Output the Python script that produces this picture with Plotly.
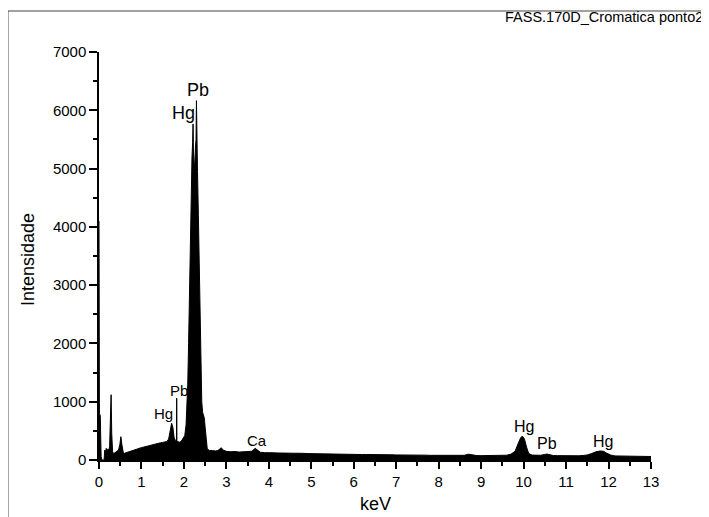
import plotly.graph_objects as go

# ---- data ----
energy_kev = [
    0.000, 0.010, 0.030, 0.050, 0.070, 0.120, 0.135, 0.150, 0.170, 0.190,
    0.210, 0.230, 0.250, 0.265, 0.285, 0.300, 0.320, 0.350, 0.380, 0.420,
    0.460, 0.490, 0.515, 0.540, 0.570, 0.600, 0.650, 0.700, 0.750, 0.800,
    0.850, 0.900, 0.950, 1.000, 1.050, 1.100, 1.150, 1.200, 1.250, 1.300,
    1.350, 1.400, 1.450, 1.500, 1.550, 1.600, 1.640, 1.680, 1.710, 1.740,
    1.770, 1.800, 1.825, 1.830, 1.835, 1.860, 1.900, 1.940, 1.980, 2.020,
    2.050, 2.070, 2.090, 2.110, 2.130, 2.150, 2.170, 2.190, 2.205, 2.215,
    2.225, 2.240, 2.255, 2.270, 2.285, 2.295, 2.305, 2.320, 2.340, 2.360,
    2.380, 2.400, 2.420, 2.440, 2.460, 2.480, 2.500, 2.520, 2.550, 2.600,
    2.650, 2.700, 2.750, 2.800, 2.850, 2.880, 2.920, 2.960, 3.000, 3.100,
    3.200, 3.300, 3.400, 3.500, 3.600, 3.680, 3.750, 3.800, 3.900, 4.000,
    4.100, 4.200, 4.300, 4.400, 4.500, 4.600, 4.700, 4.800, 4.900, 5.000,
    5.100, 5.200, 5.300, 5.400, 5.500, 5.600, 5.700, 5.800, 5.900, 6.000,
    6.100, 6.200, 6.300, 6.400, 6.500, 6.600, 6.700, 6.800, 6.900, 7.000,
    7.100, 7.200, 7.300, 7.400, 7.500, 7.600, 7.700, 7.800, 7.900, 8.000,
    8.100, 8.200, 8.300, 8.400, 8.500, 8.600, 8.700, 8.750, 8.800, 8.900,
    9.000, 9.100, 9.200, 9.300, 9.400, 9.500, 9.600, 9.700, 9.800, 9.870,
    9.930, 9.970, 10.020, 10.070, 10.120, 10.200, 10.300, 10.400, 10.500, 10.550,
    10.620, 10.700, 10.800, 10.900, 11.000, 11.100, 11.200, 11.300, 11.400, 11.500,
    11.600, 11.700, 11.800, 11.880, 11.950, 12.050, 12.150, 12.300, 12.400, 12.500,
    12.600, 12.700, 12.800, 12.900, 13.000,
]
intensity = [
    4100, 800, 760, 60, 0, 0, 170, 120, 200, 140,
    190, 160, 230, 600, 1120, 450, 140, 110, 125, 135,
    170, 260, 400, 260, 135, 115, 125, 140, 155, 165,
    178, 188, 202, 212, 226, 232, 246, 256, 266, 272,
    282, 290, 296, 302, 306, 316, 360, 520, 630, 560,
    380, 335, 322, 1060, 322, 312, 305, 325, 365, 420,
    600, 850, 1300, 2000, 3000, 3900, 4700, 5200, 5450, 5765,
    5300, 5150, 4950, 5350, 5500, 6165, 5450, 4950, 4200, 3200,
    2300, 1500, 1000, 820, 770, 720, 560, 360, 190, 165,
    158, 150, 156, 162, 190, 210, 172, 155, 148, 142,
    146, 136, 140, 134, 150, 200, 152, 132, 126, 130,
    124, 121, 126, 118, 117, 119, 112, 115, 110, 108,
    111, 105, 107, 103, 104, 100, 102, 98, 99, 96,
    98, 94, 95, 92, 93, 90, 92, 88, 89, 87,
    88, 85, 86, 83, 84, 82, 83, 80, 81, 79,
    80, 78, 79, 77, 78, 80, 100, 95, 79, 76,
    75, 76, 74, 75, 76, 78, 82, 100, 150, 280,
    380, 410, 360, 220, 110, 84, 78, 81, 96, 102,
    90, 77, 75, 73, 74, 71, 72, 73, 77, 87,
    110, 140, 155, 150, 120, 86, 70, 66, 64, 65,
    62, 63, 61, 62, 60,
]

peak_labels = ["Hg", "Pb", "Hg", "Pb", "Ca", "Hg", "Pb", "Hg"]
label_x = [1.98, 2.33, 1.53, 1.88, 3.71, 10.01, 10.56, 11.86]
label_y = [5950, 6350, 790, 1200, 343, 583, 275, 326]
label_size = [18, 18, 15, 15, 15, 16, 16, 16]

x_ticks = list(range(0, 14))
y_ticks = list(range(0, 7001, 1000))

FONT = "Liberation Sans, Arial, sans-serif"

fig = go.Figure()
fig.add_trace(go.Scatter(
    x=energy_kev, y=intensity, mode="lines",
    line=dict(color="black", width=1),
    fill="tozeroy", fillcolor="black",
    hoverinfo="x+y", showlegend=False,
))

for t, xv, yv, s in zip(peak_labels, label_x, label_y, label_size):
    fig.add_annotation(x=xv, y=yv, text=t, showarrow=False,
                       font=dict(size=s, color="black", family=FONT),
                       xanchor="center", yanchor="middle")

# axis titles and chart caption
fig.add_annotation(xref="paper", yref="paper", x=-0.1286, y=0.49,
                   text="Intensidade", textangle=-90, showarrow=False,
                   font=dict(size=18, color="black", family=FONT),
                   xanchor="center", yanchor="middle")
fig.add_annotation(xref="paper", yref="paper", x=0.5, y=-0.137,
                   text="keV", showarrow=False,
                   font=dict(size=18, color="black", family=FONT),
                   xanchor="center", yanchor="bottom")
fig.add_annotation(xref="paper", yref="paper", x=0.732, y=1.086,
                   text="FASS.170D_Cromatica ponto2", showarrow=False,
                   font=dict(size=14.5, color="black", family=FONT),
                   xanchor="left", yanchor="middle")

# outer frame (top and left edges visible in reference)
fig.add_shape(type="line", xref="paper", yref="paper",
              x0=-0.1649, x1=-0.1649, y0=1.1005, y1=-0.2,
              line=dict(color="#444", width=1))
fig.add_shape(type="line", xref="paper", yref="paper",
              x0=-0.1649, x1=1.2, y0=1.1005, y1=1.1005,
              line=dict(color="#444", width=1))

fig.update_xaxes(
    range=[0, 13], tickvals=x_ticks, ticktext=[str(v) for v in x_ticks],
    ticks="outside", ticklen=7, tickwidth=1.5, tickcolor="black",
    showline=True, linewidth=1.5, linecolor="black",
    showgrid=False, zeroline=False,
    tickfont=dict(size=15, color="black", family=FONT),
    minor=dict(dtick=0.5, tick0=0, ticks="outside", ticklen=4,
               tickwidth=1.5, tickcolor="black", showgrid=False),
)
fig.update_yaxes(
    range=[0, 7000], tickvals=y_ticks, ticktext=[str(v) for v in y_ticks],
    ticks="outside", ticklen=8, tickwidth=1.5, tickcolor="black",
    showline=True, linewidth=1.5, linecolor="black",
    showgrid=False, zeroline=False,
    tickfont=dict(size=15, color="black", family=FONT),
    minor=dict(dtick=500, tick0=0, ticks="outside", ticklen=4,
               tickwidth=1.5, tickcolor="black", showgrid=False),
)

# page body adds an 8px offset; margins compensate so the plot area lands
# at the reference's screen position
fig.update_layout(
    width=709, height=517,
    margin=dict(l=91, r=66, t=44, b=65),
    paper_bgcolor="white", plot_bgcolor="white",
    font=dict(family=FONT, color="black"),
)

fig.write_html("out.html")
